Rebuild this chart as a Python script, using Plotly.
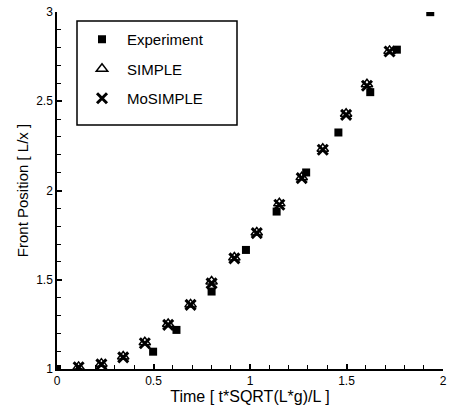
import plotly.graph_objects as go

# Data
exp_t = [0.0, 0.498, 0.619, 0.801, 0.979, 1.138, 1.291, 1.458, 1.623, 1.761, 1.934]
exp_x = [1.0, 1.097, 1.219, 1.434, 1.667, 1.882, 2.101, 2.325, 2.551, 2.789, 2.999]

sim_t = [0.112, 0.230, 0.343, 0.455, 0.576, 0.692, 0.801, 0.919, 1.035, 1.152, 1.268, 1.377, 1.498, 1.606, 1.723]
simple_x = [1.012, 1.03, 1.07, 1.15, 1.252, 1.362, 1.49, 1.625, 1.765, 1.928, 2.074, 2.234, 2.43, 2.595, 2.782]
mosimple_x = [1.01, 1.026, 1.065, 1.144, 1.247, 1.359, 1.48, 1.62, 1.761, 1.92, 2.069, 2.228, 2.424, 2.587, 2.779]

x_ticks = [0, 0.5, 1, 1.5, 2]
x_tick_labels = ["0", "0.5", "1", "1.5", "2"]
y_ticks = [1, 1.5, 2, 2.5, 3]
y_tick_labels = ["1", "1.5", "2", "2.5", "3"]

FONT = "Liberation Sans, Arial, sans-serif"

fig = go.Figure()
fig.add_trace(go.Scatter(
    x=exp_t, y=exp_x, mode="markers", name="Experiment", legendgroup="a",
    marker=dict(symbol="square", size=8, color="black", line=dict(width=0)),
))
fig.add_trace(go.Scatter(
    x=sim_t, y=simple_x, mode="markers", name="SIMPLE", legendgroup="b",
    marker=dict(symbol="triangle-up-open", size=10, color="black", line=dict(width=1.5)),
))
fig.add_trace(go.Scatter(
    x=sim_t, y=mosimple_x, mode="markers", name="MoSIMPLE", legendgroup="c",
    marker=dict(symbol="x-thin-open", size=10, color="black", line=dict(width=3)),
))

# legend frame (px -> paper): plot area x 57..443, y 12..369
def px2x(p):
    return (p - 57) / (443 - 57)

def px2y(p):
    return (369 - p) / (369 - 12)

fig.add_shape(type="rect", xref="paper", yref="paper",
              x0=px2x(77), x1=px2x(237), y0=px2y(125), y1=px2y(21),
              line=dict(color="black", width=1.5), fillcolor="white", layer="below")

fig.update_layout(
    width=451, height=405,
    margin=dict(l=57, r=8, t=12, b=36),
    paper_bgcolor="white", plot_bgcolor="white",
    font=dict(family=FONT, size=13, color="black"),
    showlegend=True,
    legend=dict(
        x=px2x(77), y=px2y(23), xanchor="left", yanchor="top",
        borderwidth=0, bgcolor="rgba(0,0,0,0)",
        font=dict(family=FONT, size=15, color="black"),
        tracegroupgap=7, itemwidth=40,
    ),
    xaxis=dict(
        range=[0, 2], tickmode="array", tickvals=x_ticks, ticktext=x_tick_labels,
        showgrid=False, zeroline=False, showline=True, linecolor="black", linewidth=2,
        ticks="inside", ticklen=5, tickwidth=1.5, tickcolor="black",
        minor=dict(dtick=0.1, ticks="inside", ticklen=4, tickwidth=1, tickcolor="black"),
        title=dict(text="Time [ t*SQRT(L*g)/L ]", font=dict(size=16), standoff=1),
        tickfont=dict(size=12), automargin=False,
    ),
    yaxis=dict(
        range=[1, 3], tickmode="array", tickvals=y_ticks, ticktext=y_tick_labels,
        showgrid=False, zeroline=False, showline=True, linecolor="black", linewidth=1.5,
        ticks="inside", ticklen=5, tickwidth=1.5, tickcolor="black",
        minor=dict(dtick=0.1, ticks="inside", ticklen=4, tickwidth=1, tickcolor="black"),
        title=dict(text="Front Position [ L/x ]", font=dict(size=15), standoff=4),
        tickfont=dict(size=12), automargin=False,
    ),
)

fig.write_html("out.html", config={"displayModeBar": False},
               post_script="document.body.style.margin='0';")
